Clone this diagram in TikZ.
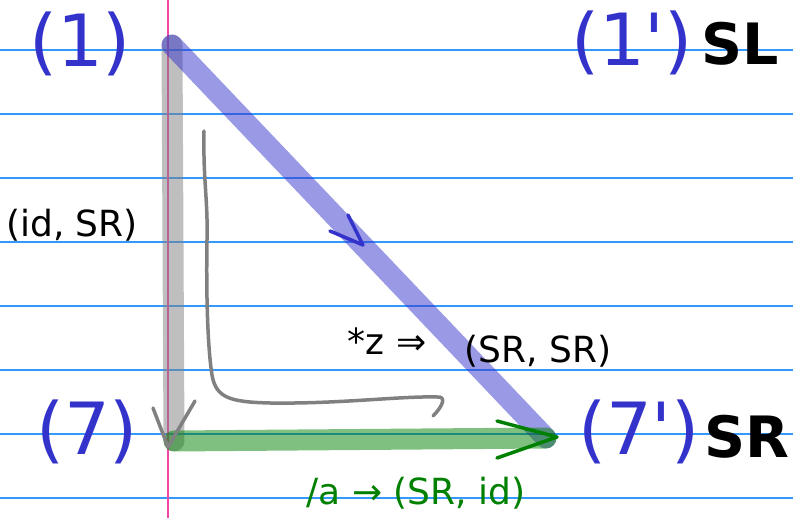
\documentclass[tikz,border=0pt]{standalone}
\usepackage{fontspec}
\setmainfont{DejaVu Sans}
\usepackage{tikz}
\definecolor{stateblue}{RGB}{51,51,204}
\definecolor{ruleblue}{RGB}{51,153,255}
\definecolor{marginpink}{RGB}{240,70,170}
\definecolor{darkgreen}{RGB}{0,128,0}
\tikzstyle{state} = [text=stateblue, font=\fontsize{72}{72}\selectfont, inner sep=0pt]
\tikzstyle{sidetag} = [font=\bfseries\fontsize{57}{57}\selectfont, inner sep=0pt]
\tikzstyle{lbl} = [font=\fontsize{36}{36}\selectfont, inner sep=0pt]
\tikzstyle{band} = [line width=21pt, line cap=round, opacity=0.5]
\tikzstyle{pen} = [line width=3.5pt, line cap=round, line join=round]
\tikzstyle{paper} = [line width=1.2pt]
\newcommand{\prm}{\XeTeXglyph\XeTeXcharglyph"27\relax}

\begin{document}
\begin{tikzpicture}[x=1pt, y=-1pt]
    \useasboundingbox (0,0) rectangle (793,518);
    % Drawing paper
    \foreach \y in {50,114,...,498}
        \draw [paper, ruleblue] (0,\y) -- (793,\y);
    \draw [paper, marginpink] (168,0) -- (168,518);

    % Drawing states
    \node [state, anchor=base] (s1) at (80,67) {(1)};
    \node [state, anchor=base] (s1p) at (632,66) {(1\prm)};
    \node [sidetag, anchor=base] (sl) at (740,65) {SL};
    \node [state, anchor=base] (s7) at (87,455) {(7)};
    \node [state, anchor=base] (s7p) at (639,455) {(7\prm)};
    \node [sidetag, anchor=base] (sr) at (747,458) {SR};
    \coordinate (c1) at (172,45);
    \coordinate (c7) at (174,441);
    \coordinate (c7p) at (546,438);

    % Connectors
    \draw [band, gray] (c1) -- (c7);
    \draw [band, stateblue] (c1) -- (c7p);
    \draw [band, darkgreen] (c7) -- (c7p);

    % Arrow marks
    \coordinate (bt) at (363,245);
    \coordinate (gt) at (557,437);
    \coordinate (vt) at (168,447);
    \draw [pen, stateblue] ([shift={(-33,-14)}]bt) -- (bt) -- ([shift={(-15,-30)}]bt);
    \draw [pen, darkgreen] ([shift={(-60,-16)}]gt) -- (gt) -- ([shift={(-60,21)}]gt);
    \draw [pen, gray] ([shift={(-15,-39)}]vt) -- (vt) -- ([shift={(27,-46)}]vt);

    % Hand drawn arrow
    \coordinate (zs) at (204,131);
    \coordinate (ze) at (437,397);
    \draw [pen, gray] (zs) .. controls (203,180) and (208,200) .. (207,240)
        .. controls (206,300) and (208,350) .. (212,375)
        .. controls (216,398) and (230,402) .. (270,403)
        .. controls (340,404) and (400,396) .. (ze)
        .. controls (446,396) and (444,405) .. (433,416);

    % Labels
    \node [lbl, anchor=base] (idsr) at (72,237) {(id, SR)};
    \node [lbl, anchor=base] (zstar) at (387,355) {*z ⇒};
    \node [lbl, anchor=base] (srsr) at (538,363) {(SR, SR)};
    \node [lbl, anchor=base, text=darkgreen] (asrid) at (416,505) {/a → (SR, id)};
\end{tikzpicture}
\end{document}
